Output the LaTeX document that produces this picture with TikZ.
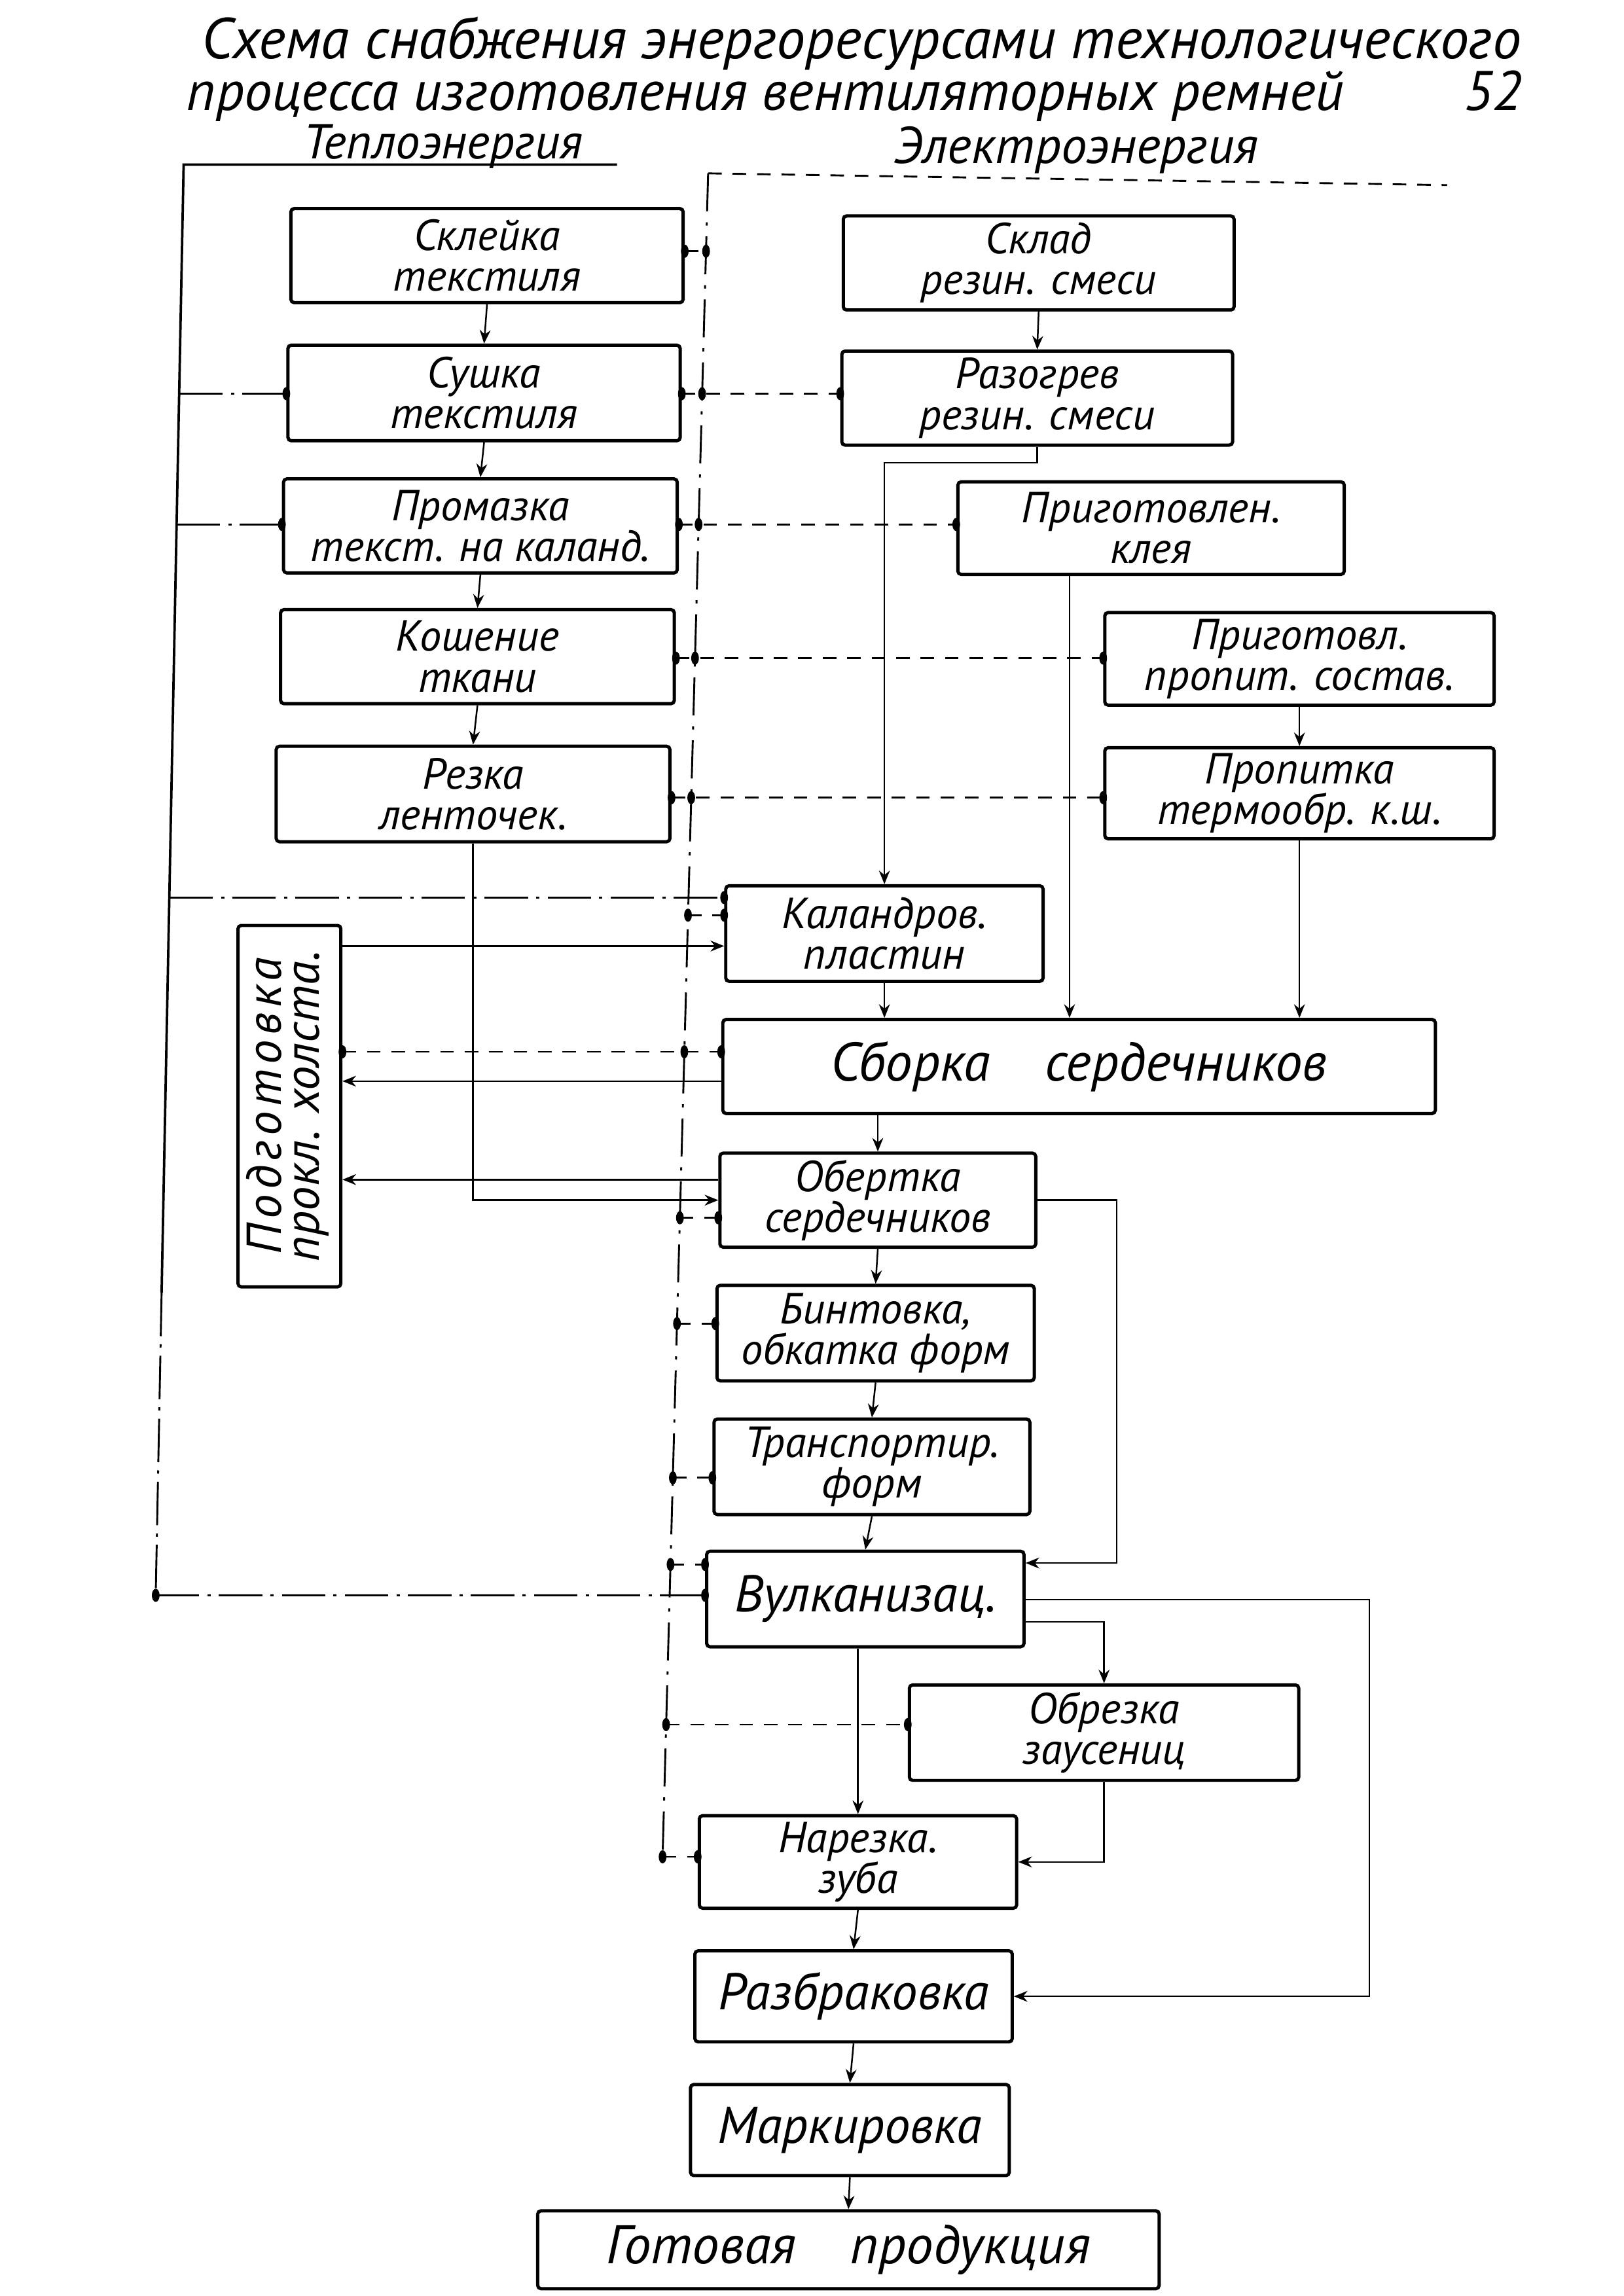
\documentclass[tikz,border=0pt]{standalone}
\usepackage{fontspec}
\setmainfont{PT Sans}
\newfontfamily\spacedfont[LetterSpace=10]{PT Sans}
\usetikzlibrary{arrows.meta,calc}
\def\pxu{0.19005mm}
\newcommand\mkbox[5]{\node[box, minimum width=#3*\pxu, minimum height=#4*\pxu] (#1) at #2 {#5};}
\newcommand\jdot[1]{\fill (#1) ellipse [x radius=0.5mm, y radius=0.85mm];}
\tikzset{
  box/.style={draw, line width=1.2pt, rounded corners=1.2pt, inner sep=1pt, align=center,
              font=\fontsize{16}{15}\selectfont\itshape},
  onel/.style={font=\fontsize{19}{19}\selectfont\itshape},
  big/.style={font=\fontsize{20}{20}\selectfont\itshape},
  lbl/.style={inner sep=0pt, anchor=base west},
  flow/.style={line width=0.6pt, -{Stealth[length=5pt,width=4pt]}},
  conn/.style={line width=0.6pt},
  elec/.style={line width=0.7pt, dash pattern=on 5pt off 4pt},
  ebus/.style={line width=0.7pt, dash pattern=on 14pt off 4pt on 1.2pt off 4pt},
  heat/.style={line width=0.7pt, dash pattern=on 16pt off 3pt on 1.2pt off 3pt},
  hbus/.style={line width=0.9pt}
}
\begin{document}
\begin{tikzpicture}[x=0.19005mm, y=-0.19005mm]
\useasboundingbox (0,0) rectangle (1105,1563);

% ---------- titles ----------
\node[lbl, font=\fontsize{21.2}{20}\selectfont\itshape] (t1) at (137,40) {Схема снабжения энергоресурсами технологического};
\node[lbl, font=\fontsize{20.5}{20}\selectfont\itshape] (t2) at (127,75) {процесса изготовления вентиляторных ремней};
\node[lbl, font=\fontsize{20.5}{20}\selectfont\itshape] (t3) at (996,75) {52};
\node[lbl, font=\fontsize{18}{18}\selectfont\itshape] (heatlbl) at (206,108) {Теплоэнергия};
\node[lbl, font=\fontsize{19}{19}\selectfont\itshape] (eleclbl) at (608,111) {Электроэнергия};

% ---------- boxes ----------
\mkbox{skl}{(331.5,174)}{267}{64}{Склейка\\текстиля}
\mkbox{sush}{(329.5,267.5)}{267}{65}{Сушка\\текстиля}
\mkbox{prom}{(327,358)}{268}{64}{Промазка\\текст. на каланд.}
\mkbox{kosh}{(325,447)}{268}{64}{Кошение\\ткани}
\mkbox{rezka}{(322,540.5)}{268}{65}{Резка\\ленточек.}
\mkbox{sklad}{(707,179)}{266}{64}{Склад\\резин. смеси}
\mkbox{razog}{(706,271)}{266}{64}{Разогрев\\резин. смеси}
\mkbox{klei}{(783.5,359.5)}{263}{63}{Приготовлен.\\клея}
\mkbox{prigpr}{(884.5,448.5)}{265}{63}{Приготовл.\\пропит. состав.}
\mkbox{propit}{(884.5,540)}{265}{62}{Пропитка\\термообр. к.ш.}
\mkbox{kaland}{(602,635.5)}{216}{65}{Каландров.\\пластин}
\node[box, big, minimum width=485*\pxu, minimum height=64*\pxu] (sborka) at (734.5,726) {Сборка\quad сердечников};
\mkbox{obert}{(597.5,817)}{215}{64}{Обертка\\сердечников}
\mkbox{bint}{(596,907.5)}{216}{65}{Бинтовка,\\обкатка форм}
\mkbox{transp}{(593.5,998.5)}{215}{65}{Транспортир.\\форм}
\node[box, onel, minimum width=216*\pxu, minimum height=65*\pxu] (vulk) at (589,1088.5) {Вулканизац.};
\mkbox{obrez}{(751.5,1179.5)}{265}{65}{Обрезка\\заусениц}
\mkbox{narez}{(584,1267.5)}{216}{63}{Нарезка.\\зуба}
\node[box, onel, minimum width=216*\pxu, minimum height=62*\pxu] (razbr) at (581,1359) {Разбраковка};
\node[box, onel, minimum width=217*\pxu, minimum height=62*\pxu] (mark) at (578.5,1450) {Маркировка};
\node[box, big, minimum width=423*\pxu, minimum height=53*\pxu] (gotov) at (577.5,1531.5) {Готовая\quad продукция};
\node[box, minimum width=70*\pxu, minimum height=246*\pxu] (podg) at (197,753)
  {\rotatebox{90}{\fontsize{18}{17}\selectfont\begin{tabular}{@{}c@{}}{\spacedfont\itshape Подготовка}\\[-3pt] \itshape прокл. холста.\end{tabular}}};

% ---------- material flow ----------
\draw[flow] (skl.south) -- (sush.north);
\draw[flow] (sush.south) -- (prom.north);
\draw[flow] (prom.south) -- (kosh.north);
\draw[flow] (kosh.south) -- (rezka.north);
\draw[flow] (sklad.south) -- (razog.north);
\draw[flow] (razog.south) -- ++(0,11) -| (kaland.north);
\coordinate (kx) at (728,0);
\draw[flow] (klei.south -| kx) -- (sborka.north -| kx);
\draw[flow] (prigpr.south) -- (propit.north);
\draw[flow] (propit.south) -- (sborka.north -| propit.south);
\draw[flow] (kaland.south) -- (sborka.north -| kaland.south);
\draw[flow] (sborka.south -| obert.north) -- (obert.north);
\draw[flow] (obert.south) -- (bint.north);
\draw[flow] (bint.south) -- (transp.north);
\draw[flow] (transp.south) -- (vulk.north);
\draw[flow] (narez.north |- vulk.south) -- (narez.north);
\draw[flow] (narez.south) -- (razbr.north);
\draw[flow] (razbr.south) -- (mark.north);
\draw[flow] (mark.south) -- (gotov.north);
\coordinate (r1) at (760,1064);
\draw[flow] (obert.east) -| (r1) -- (vulk.east |- r1);
\coordinate (r2) at (748,1104);
\draw[flow] (vulk.east |- r2) -| (obrez.north);
\coordinate (r3) at (932,1089);
\draw[flow] (vulk.east |- r3) -- (r3) |- (razbr.east);
\draw[flow] (obrez.south) |- (narez.east);
\draw[flow] (rezka.south) |- (obert.west);
\coordinate (p644) at (0,644);
\coordinate (p736) at (0,736);
\coordinate (p803) at (0,803);
\draw[flow] (podg.east |- p644) -- (kaland.west |- p644);
\draw[flow] (sborka.west |- p736) -- (podg.east |- p736);
\draw[flow] (obert.west |- p803) -- (podg.east |- p803);

% ---------- heat supply ----------
\coordinate (h0) at (125,112);
\coordinate (h0r) at (420,112);
\coordinate (hmid) at (110,880);
\coordinate (hbot) at (106,1086);
\coordinate (h268) at (122,268);
\coordinate (h357) at (120.2,357);
\coordinate (h611) at (115.3,611);
\draw[hbus] (h0r) -- (h0) -- (hmid);
\draw[heat] (hmid) -- (hbot);
\draw[heat] (h268) -- (sush.west |- h268);
\draw[heat] (h357) -- (prom.west |- h357);
\draw[heat] (h611) -- (kaland.west |- h611);
\draw[heat] (hbot) -- (vulk.west |- hbot);
\jdot{sush.west |- h268}
\jdot{prom.west |- h357}
\jdot{kaland.west |- h611}
\jdot{vulk.west |- hbot}
\jdot{hbot}

% ---------- electric supply ----------
\coordinate (etop) at (482,118);
\coordinate (etopr) at (985,126);
\coordinate (ebot) at (451,1264);
\draw[elec] (etop) -- (etopr);
\draw[ebus] (etop) -- (ebot);
\coordinate (e171) at (480.6,171);
\coordinate (e268) at (477.9,268);
\coordinate (e357) at (475.5,357);
\coordinate (e448) at (473.1,448);
\coordinate (e543) at (470.5,543);
\coordinate (e623) at (468.3,623);
\coordinate (e716) at (465.8,716);
\coordinate (e829) at (462.8,829);
\coordinate (e901) at (460.8,901);
\coordinate (e1006) at (458.0,1006);
\coordinate (e1065) at (456.4,1065);
\coordinate (e1174) at (453.4,1174);
\coordinate (e1264) at (451.0,1264);

\draw[elec] (skl.east |- e171) -- (e171);
\jdot{skl.east |- e171} \jdot{e171}
\draw[elec] (sush.east |- e268) -- (e268) -- (razog.west |- e268);
\jdot{sush.east |- e268} \jdot{e268} \jdot{razog.west |- e268}
\draw[elec] (prom.east |- e357) -- (e357) -- (klei.west |- e357);
\jdot{prom.east |- e357} \jdot{e357} \jdot{klei.west |- e357}
\draw[elec] (kosh.east |- e448) -- (e448) -- (prigpr.west |- e448);
\jdot{kosh.east |- e448} \jdot{e448} \jdot{prigpr.west |- e448}
\draw[elec] (rezka.east |- e543) -- (e543) -- (propit.west |- e543);
\jdot{rezka.east |- e543} \jdot{e543} \jdot{propit.west |- e543}
\draw[elec] (e623) -- (kaland.west |- e623);
\jdot{e623} \jdot{kaland.west |- e623}
\draw[elec] (podg.east |- e716) -- (e716) -- (sborka.west |- e716);
\jdot{podg.east |- e716} \jdot{e716} \jdot{sborka.west |- e716}
\draw[elec] (e829) -- (obert.west |- e829);
\jdot{e829} \jdot{obert.west |- e829}
\draw[elec] (e901) -- (bint.west |- e901);
\jdot{e901} \jdot{bint.west |- e901}
\draw[elec] (e1006) -- (transp.west |- e1006);
\jdot{e1006} \jdot{transp.west |- e1006}
\draw[elec] (e1065) -- (vulk.west |- e1065);
\jdot{e1065} \jdot{vulk.west |- e1065}
\draw[elec] (e1174) -- (obrez.west |- e1174);
\jdot{e1174} \jdot{obrez.west |- e1174}
\draw[elec] (e1264) -- (narez.west |- e1264);
\jdot{e1264} \jdot{narez.west |- e1264}
\end{tikzpicture}
\end{document}
